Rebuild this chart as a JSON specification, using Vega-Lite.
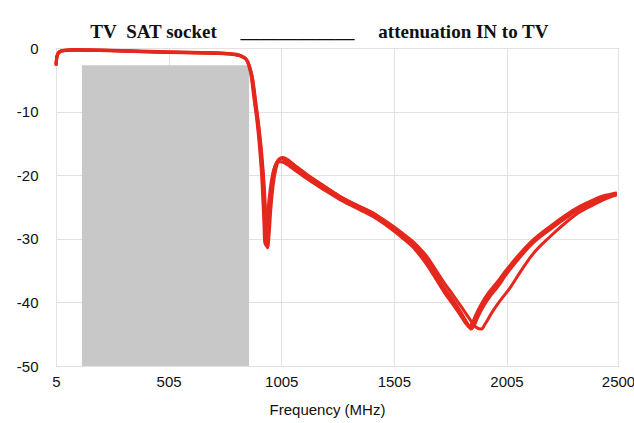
{
  "$schema": "https://vega.github.io/schema/vega-lite/v6.json",
  "autosize": "none",
  "width": 562,
  "height": 318,
  "padding": {"left": 56, "top": 48, "right": 16, "bottom": 57},
  "background": "white",
  "title": {
    "text": "TV\u00a0\u00a0SAT socket\u00a0\u00a0\u00a0\u00a0\u00a0____________\u00a0\u00a0\u00a0\u00a0\u00a0attenuation IN to TV",
    "font": "Liberation Serif",
    "fontSize": 19,
    "fontWeight": "bold",
    "color": "#111111",
    "anchor": "start",
    "dx": 74,
    "dy": 27,
    "baseline": "alphabetic",
    "offset": 11
  },
  "config": {
    "view": {"stroke": "#9a9a9a", "strokeWidth": 1},
    "axis": {
      "labelFont": "Liberation Sans",
      "labelFontSize": 15,
      "labelColor": "#111111",
      "titleFont": "Liberation Sans",
      "titleFontSize": 15,
      "titleFontWeight": "normal",
      "titleColor": "#111111",
      "gridColor": "#e2e2e2",
      "gridWidth": 1,
      "ticks": false,
      "domain": false
    }
  },
  "datasets": {
    "band": [{"f1": 120, "f2": 862, "a1": -50, "a2": -2.7}],
    "curves": [
      {"s": "A", "f": 5, "a": -2.6}, {"s": "A", "f": 8, "a": -1.6}, {"s": "A", "f": 12, "a": -1.0}, {"s": "A", "f": 20, "a": -0.6},
      {"s": "A", "f": 40, "a": -0.4}, {"s": "A", "f": 80, "a": -0.3}, {"s": "A", "f": 200, "a": -0.35}, {"s": "A", "f": 350, "a": -0.5},
      {"s": "A", "f": 500, "a": -0.65}, {"s": "A", "f": 650, "a": -0.75}, {"s": "A", "f": 750, "a": -0.85}, {"s": "A", "f": 800, "a": -1.0},
      {"s": "A", "f": 830, "a": -1.3}, {"s": "A", "f": 850, "a": -1.8}, {"s": "A", "f": 862, "a": -2.8}, {"s": "A", "f": 872, "a": -4.3},
      {"s": "A", "f": 886, "a": -8.0}, {"s": "A", "f": 900, "a": -11.8}, {"s": "A", "f": 912, "a": -16}, {"s": "A", "f": 922, "a": -21},
      {"s": "A", "f": 930, "a": -27}, {"s": "A", "f": 936, "a": -31.0}, {"s": "A", "f": 942, "a": -29.5}, {"s": "A", "f": 950, "a": -25.5},
      {"s": "A", "f": 960, "a": -22}, {"s": "A", "f": 972, "a": -19.3}, {"s": "A", "f": 988, "a": -17.8}, {"s": "A", "f": 1005, "a": -17.4},
      {"s": "A", "f": 1020, "a": -17.6}, {"s": "A", "f": 1050, "a": -18.4}, {"s": "A", "f": 1116, "a": -20.2}, {"s": "A", "f": 1190, "a": -21.9},
      {"s": "A", "f": 1264, "a": -23.5}, {"s": "A", "f": 1340, "a": -24.9}, {"s": "A", "f": 1412, "a": -26.2}, {"s": "A", "f": 1460, "a": -27.3},
      {"s": "A", "f": 1505, "a": -28.5}, {"s": "A", "f": 1550, "a": -29.8}, {"s": "A", "f": 1589, "a": -31.0}, {"s": "A", "f": 1620, "a": -32.3},
      {"s": "A", "f": 1648, "a": -33.6}, {"s": "A", "f": 1693, "a": -36.1}, {"s": "A", "f": 1730, "a": -38.2}, {"s": "A", "f": 1767, "a": -40.0},
      {"s": "A", "f": 1800, "a": -41.8}, {"s": "A", "f": 1825, "a": -43.2}, {"s": "A", "f": 1841, "a": -43.9}, {"s": "A", "f": 1855, "a": -43.5},
      {"s": "A", "f": 1871, "a": -42.2}, {"s": "A", "f": 1900, "a": -40.3}, {"s": "A", "f": 1930, "a": -38.7}, {"s": "A", "f": 1960, "a": -37.4},
      {"s": "A", "f": 2004, "a": -35.2}, {"s": "A", "f": 2060, "a": -32.8}, {"s": "A", "f": 2122, "a": -30.4}, {"s": "A", "f": 2200, "a": -28.2},
      {"s": "A", "f": 2270, "a": -26.4}, {"s": "A", "f": 2330, "a": -25.1}, {"s": "A", "f": 2388, "a": -24.1}, {"s": "A", "f": 2440, "a": -23.4},
      {"s": "A", "f": 2477, "a": -23.0}, {"s": "A", "f": 2495, "a": -22.9},

      {"s": "B", "f": 5, "a": -2.8}, {"s": "B", "f": 8, "a": -1.7}, {"s": "B", "f": 12, "a": -1.1}, {"s": "B", "f": 20, "a": -0.7},
      {"s": "B", "f": 40, "a": -0.45}, {"s": "B", "f": 80, "a": -0.35}, {"s": "B", "f": 200, "a": -0.4}, {"s": "B", "f": 350, "a": -0.55},
      {"s": "B", "f": 500, "a": -0.7}, {"s": "B", "f": 650, "a": -0.8}, {"s": "B", "f": 750, "a": -0.9}, {"s": "B", "f": 800, "a": -1.05},
      {"s": "B", "f": 830, "a": -1.35}, {"s": "B", "f": 852, "a": -1.9}, {"s": "B", "f": 865, "a": -3.0}, {"s": "B", "f": 876, "a": -4.6},
      {"s": "B", "f": 890, "a": -8.3}, {"s": "B", "f": 904, "a": -12.2}, {"s": "B", "f": 916, "a": -16.5}, {"s": "B", "f": 927, "a": -21.5},
      {"s": "B", "f": 935, "a": -27.5}, {"s": "B", "f": 941, "a": -31.3}, {"s": "B", "f": 947, "a": -29.6}, {"s": "B", "f": 955, "a": -25.4},
      {"s": "B", "f": 965, "a": -21.8}, {"s": "B", "f": 978, "a": -19.0}, {"s": "B", "f": 994, "a": -17.5}, {"s": "B", "f": 1010, "a": -17.2},
      {"s": "B", "f": 1025, "a": -17.4}, {"s": "B", "f": 1055, "a": -18.2}, {"s": "B", "f": 1116, "a": -19.9}, {"s": "B", "f": 1190, "a": -21.6},
      {"s": "B", "f": 1264, "a": -23.3}, {"s": "B", "f": 1340, "a": -24.7}, {"s": "B", "f": 1412, "a": -26.0}, {"s": "B", "f": 1460, "a": -27.1},
      {"s": "B", "f": 1505, "a": -28.3}, {"s": "B", "f": 1550, "a": -29.6}, {"s": "B", "f": 1589, "a": -30.7}, {"s": "B", "f": 1620, "a": -32.0},
      {"s": "B", "f": 1648, "a": -33.2}, {"s": "B", "f": 1693, "a": -35.7}, {"s": "B", "f": 1730, "a": -37.8}, {"s": "B", "f": 1767, "a": -39.6},
      {"s": "B", "f": 1800, "a": -41.4}, {"s": "B", "f": 1830, "a": -43.2}, {"s": "B", "f": 1848, "a": -44.2}, {"s": "B", "f": 1862, "a": -43.6},
      {"s": "B", "f": 1878, "a": -42.3}, {"s": "B", "f": 1905, "a": -40.5}, {"s": "B", "f": 1935, "a": -38.9}, {"s": "B", "f": 1965, "a": -37.6},
      {"s": "B", "f": 2004, "a": -35.6}, {"s": "B", "f": 2060, "a": -33.1}, {"s": "B", "f": 2122, "a": -30.7}, {"s": "B", "f": 2200, "a": -28.5},
      {"s": "B", "f": 2270, "a": -26.7}, {"s": "B", "f": 2330, "a": -25.3}, {"s": "B", "f": 2388, "a": -24.3}, {"s": "B", "f": 2440, "a": -23.6},
      {"s": "B", "f": 2477, "a": -23.1}, {"s": "B", "f": 2495, "a": -23.0},

      {"s": "C", "f": 5, "a": -2.4}, {"s": "C", "f": 8, "a": -1.5}, {"s": "C", "f": 12, "a": -0.95}, {"s": "C", "f": 20, "a": -0.55},
      {"s": "C", "f": 40, "a": -0.35}, {"s": "C", "f": 80, "a": -0.25}, {"s": "C", "f": 200, "a": -0.3}, {"s": "C", "f": 350, "a": -0.45},
      {"s": "C", "f": 500, "a": -0.6}, {"s": "C", "f": 650, "a": -0.7}, {"s": "C", "f": 750, "a": -0.8}, {"s": "C", "f": 800, "a": -0.95},
      {"s": "C", "f": 828, "a": -1.25}, {"s": "C", "f": 848, "a": -1.7}, {"s": "C", "f": 860, "a": -2.7}, {"s": "C", "f": 870, "a": -4.1},
      {"s": "C", "f": 883, "a": -7.7}, {"s": "C", "f": 897, "a": -11.5}, {"s": "C", "f": 909, "a": -15.8}, {"s": "C", "f": 919, "a": -20.7},
      {"s": "C", "f": 927, "a": -26.5}, {"s": "C", "f": 932, "a": -30.8}, {"s": "C", "f": 938, "a": -29.2}, {"s": "C", "f": 946, "a": -25.6},
      {"s": "C", "f": 956, "a": -22.2}, {"s": "C", "f": 968, "a": -19.6}, {"s": "C", "f": 984, "a": -18.2}, {"s": "C", "f": 1000, "a": -17.9},
      {"s": "C", "f": 1016, "a": -18.0}, {"s": "C", "f": 1046, "a": -18.7}, {"s": "C", "f": 1116, "a": -20.5}, {"s": "C", "f": 1190, "a": -22.2},
      {"s": "C", "f": 1264, "a": -23.8}, {"s": "C", "f": 1340, "a": -25.2}, {"s": "C", "f": 1412, "a": -26.5}, {"s": "C", "f": 1460, "a": -27.6},
      {"s": "C", "f": 1505, "a": -28.8}, {"s": "C", "f": 1550, "a": -30.1}, {"s": "C", "f": 1589, "a": -31.3}, {"s": "C", "f": 1620, "a": -32.6},
      {"s": "C", "f": 1648, "a": -33.9}, {"s": "C", "f": 1693, "a": -36.4}, {"s": "C", "f": 1730, "a": -38.5}, {"s": "C", "f": 1767, "a": -40.3},
      {"s": "C", "f": 1800, "a": -42.0}, {"s": "C", "f": 1822, "a": -43.2}, {"s": "C", "f": 1838, "a": -43.8}, {"s": "C", "f": 1852, "a": -43.3},
      {"s": "C", "f": 1868, "a": -42.0}, {"s": "C", "f": 1897, "a": -40.0}, {"s": "C", "f": 1927, "a": -38.4}, {"s": "C", "f": 1957, "a": -37.1},
      {"s": "C", "f": 2004, "a": -34.9}, {"s": "C", "f": 2060, "a": -32.5}, {"s": "C", "f": 2122, "a": -30.2}, {"s": "C", "f": 2200, "a": -28.0},
      {"s": "C", "f": 2270, "a": -26.2}, {"s": "C", "f": 2330, "a": -24.9}, {"s": "C", "f": 2388, "a": -23.9}, {"s": "C", "f": 2440, "a": -23.2},
      {"s": "C", "f": 2477, "a": -22.9}, {"s": "C", "f": 2495, "a": -22.8},

      {"s": "D", "f": 5, "a": -2.7}, {"s": "D", "f": 8, "a": -1.6}, {"s": "D", "f": 12, "a": -1.05}, {"s": "D", "f": 20, "a": -0.65},
      {"s": "D", "f": 40, "a": -0.4}, {"s": "D", "f": 80, "a": -0.3}, {"s": "D", "f": 200, "a": -0.35}, {"s": "D", "f": 350, "a": -0.5},
      {"s": "D", "f": 500, "a": -0.65}, {"s": "D", "f": 650, "a": -0.78}, {"s": "D", "f": 750, "a": -0.88}, {"s": "D", "f": 800, "a": -1.05},
      {"s": "D", "f": 832, "a": -1.4}, {"s": "D", "f": 854, "a": -2.0}, {"s": "D", "f": 867, "a": -3.2}, {"s": "D", "f": 878, "a": -4.8},
      {"s": "D", "f": 892, "a": -8.5}, {"s": "D", "f": 906, "a": -12.4}, {"s": "D", "f": 919, "a": -16.8}, {"s": "D", "f": 930, "a": -22},
      {"s": "D", "f": 939, "a": -28}, {"s": "D", "f": 945, "a": -31.4}, {"s": "D", "f": 951, "a": -29.4}, {"s": "D", "f": 959, "a": -25.2},
      {"s": "D", "f": 969, "a": -21.6}, {"s": "D", "f": 982, "a": -18.9}, {"s": "D", "f": 998, "a": -17.5}, {"s": "D", "f": 1015, "a": -17.3},
      {"s": "D", "f": 1030, "a": -17.5}, {"s": "D", "f": 1060, "a": -18.3}, {"s": "D", "f": 1116, "a": -19.8}, {"s": "D", "f": 1190, "a": -21.6},
      {"s": "D", "f": 1264, "a": -23.3}, {"s": "D", "f": 1340, "a": -24.7}, {"s": "D", "f": 1412, "a": -25.9}, {"s": "D", "f": 1460, "a": -27.0},
      {"s": "D", "f": 1505, "a": -28.1}, {"s": "D", "f": 1550, "a": -29.3}, {"s": "D", "f": 1589, "a": -30.4}, {"s": "D", "f": 1620, "a": -31.5},
      {"s": "D", "f": 1648, "a": -32.6}, {"s": "D", "f": 1693, "a": -35.0}, {"s": "D", "f": 1730, "a": -37.0}, {"s": "D", "f": 1767, "a": -38.8},
      {"s": "D", "f": 1805, "a": -40.7}, {"s": "D", "f": 1841, "a": -42.6}, {"s": "D", "f": 1870, "a": -43.9}, {"s": "D", "f": 1893, "a": -44.2},
      {"s": "D", "f": 1910, "a": -43.4}, {"s": "D", "f": 1940, "a": -41.6}, {"s": "D", "f": 1975, "a": -39.8}, {"s": "D", "f": 2019, "a": -37.8},
      {"s": "D", "f": 2070, "a": -35.0}, {"s": "D", "f": 2122, "a": -32.4}, {"s": "D", "f": 2200, "a": -29.6}, {"s": "D", "f": 2270, "a": -27.4},
      {"s": "D", "f": 2330, "a": -25.8}, {"s": "D", "f": 2388, "a": -24.7}, {"s": "D", "f": 2440, "a": -23.8}, {"s": "D", "f": 2477, "a": -23.3},
      {"s": "D", "f": 2495, "a": -23.1}
    ]
  },
  "layer": [
    {
      "data": {"name": "band"},
      "mark": {"type": "rect", "color": "#c8c8c8"},
      "encoding": {
        "x": {"field": "f1", "type": "quantitative"},
        "x2": {"field": "f2"},
        "y": {"field": "a1", "type": "quantitative"},
        "y2": {"field": "a2"}
      }
    },
    {
      "data": {"name": "curves"},
      "mark": {"type": "line", "color": "#e5281d", "strokeWidth": 3, "interpolate": "monotone"},
      "encoding": {
        "detail": {"field": "s"},
        "x": {
          "field": "f",
          "type": "quantitative",
          "scale": {"domain": [5, 2500], "nice": false, "zero": false},
          "axis": {
            "values": [5, 505, 1005, 1505, 2005, 2500],
            "labelExpr": "toString(datum.value)",
            "title": "Frequency (MHz)",
            "labelPadding": 8,
            "titlePadding": 13,
            "titleX": 271,
            "labelFlush": false
          }
        },
        "y": {
          "field": "a",
          "type": "quantitative",
          "scale": {"domain": [-50, 0], "nice": false},
          "axis": {"values": [-50, -40, -30, -20, -10, 0], "labelExpr": "toString(datum.value)", "title": null, "labelPadding": 18}
        }
      }
    }
  ]
}
